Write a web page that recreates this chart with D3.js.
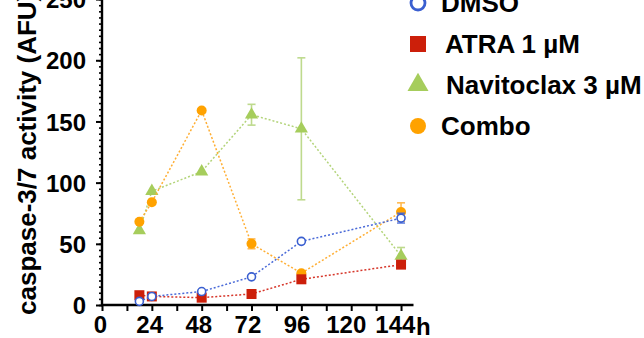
<!DOCTYPE html>
<html>
<head>
<meta charset="utf-8">
<script src="https://cdn.jsdelivr.net/npm/d3@7"></script>
<style>
  html, body { margin: 0; padding: 0; background: #fff; }
  svg { display: block; font-family: "Liberation Sans", Arial, sans-serif; font-weight: bold; }
</style>
</head>
<body>
<svg id="chart" width="644" height="338"></svg>
<script>
// Time points (hours)
const times = [18, 24, 48, 72, 96, 144];

// Caspase-3/7 activity per treatment (mean, error)
const dmso       = [3, 7, 11, 23, 52, 71];
const dmsoErr    = [0, 0, 0, 0, 0, 4];
const atra       = [8, 7, 6, 9, 21, 33];
const atraErr    = [0, 0, 0, 0, 0, 0];
const navitoclax = [61, 93, 109, 155.5, 144, 40];
const navitoErr  = [0, 0, 0, 8.5, 58, 7];
const combo      = [68, 84, 159, 50, 26, 76];
const comboErr   = [0, 0, 0, 4, 0, 7.5];

const seriesNames = ["DMSO", "ATRA 1 µM", "Navitoclax 3 µM", "Combo"];

const xTickLabels = [0, 24, 48, 72, 96, 120, 144];
const yTickLabels = [0, 50, 100, 150, 200, 250];

const series = [
  { name: seriesNames[0], values: dmso, err: dmsoErr, color: "#3a5fd0", line: "#4a6ad8", shape: "circleOpen" },
  { name: seriesNames[1], values: atra, err: atraErr, color: "#cc1f0a", line: "#d6362a", shape: "square" },
  { name: seriesNames[2], values: navitoclax, err: navitoErr, color: "#a6cd5c", line: "#b3d47a", shape: "triangle" },
  { name: seriesNames[3], values: combo, err: comboErr, color: "#ffa200", line: "#ffae33", shape: "circle" }
];

const svg = d3.select("#chart");

const x = d3.scaleLinear().domain([0, 150]).range([102, 413.5]);
const y = d3.scaleLinear().domain([0, 250]).range([305, -0.9]);

// Y axis: minor ticks every 5 units, labelled majors every 50
const yMinor = d3.axisLeft(y).tickValues(d3.range(0, 251, 5)).tickSize(3).tickFormat("");
svg.append("g").attr("transform", "translate(102,0)").call(yMinor)
  .call(g => g.select(".domain").remove())
  .call(g => g.selectAll("line").attr("stroke", "#000").attr("stroke-width", 1.6));

const yAxis = d3.axisLeft(y).tickValues(yTickLabels).tickSize(6).tickPadding(10);
svg.append("g").attr("transform", "translate(102,0)").call(yAxis)
  .call(g => g.select(".domain").attr("d", "M0,-5V306").attr("stroke", "#000").attr("stroke-width", 2.4))
  .call(g => g.selectAll("line").attr("stroke", "#000").attr("stroke-width", 2))
  .call(g => g.selectAll("text").attr("font-size", 24).attr("font-weight", "bold")
    .attr("font-family", "Liberation Sans, Arial, sans-serif").attr("fill", "#000").attr("dy", "0.36em"));

// X axis: ticks every 12 h, labels every 24 h
const xMinor = d3.axisBottom(x).tickValues(d3.range(0, 145, 12)).tickSize(6).tickFormat("");
svg.append("g").attr("transform", "translate(0,305)").call(xMinor)
  .call(g => g.select(".domain").attr("d", "M101,0H413.5").attr("stroke", "#000").attr("stroke-width", 2.4))
  .call(g => g.selectAll("line").attr("stroke", "#000").attr("stroke-width", 2));

const xAxis = d3.axisBottom(x).tickValues(xTickLabels).tickSize(0).tickPadding(11);
svg.append("g").attr("transform", "translate(0,305)").call(xAxis)
  .call(g => g.select(".domain").remove())
  .call(g => g.selectAll("text").attr("font-size", 24).attr("font-weight", "bold")
    .attr("font-family", "Liberation Sans, Arial, sans-serif").attr("fill", "#000")
    .attr("dx", (d, i) => -2 - i * 0.7));

// Time unit after the last tick label
svg.append("text")
  .attr("x", x(144) + 15).attr("y", 335)
  .attr("font-size", 24).attr("fill", "#000")
  .text("h");

// Y axis title
svg.append("text")
  .attr("transform", `translate(36,315) rotate(-90)`)
  .attr("text-anchor", "start")
  .attr("font-size", 26).attr("fill", "#000")
  .text("caspase-3/7 activity (AFU)");

function symbolPath(shape, size) {
  if (shape === "square") return d3.symbol(d3.symbolSquare, size * size)();
  if (shape === "triangle") return d3.symbol(d3.symbolTriangle, size * size * 0.75)();
  return d3.symbol(d3.symbolCircle, Math.PI * (size / 2) * (size / 2))();
}

function drawMarker(g, s, size, strokeW) {
  const p = g.append("path").attr("d", symbolPath(s.shape, size));
  if (s.shape === "circleOpen") {
    p.attr("fill", "#fff").attr("stroke", s.color).attr("stroke-width", strokeW);
  } else {
    p.attr("fill", s.color);
  }
  return p;
}

const line = d3.line().x(d => x(d.t)).y(d => y(d.v));

// Draw order: Navitoclax, Combo, ATRA, DMSO (DMSO on top)
const drawOrder = [2, 3, 1, 0];
drawOrder.forEach(i => {
  const s = series[i];
  const pts = times.map((t, k) => ({ t, v: s.values[k], e: s.err[k] }));
  const g = svg.append("g");
  g.append("path").datum(pts)
    .attr("d", line).attr("fill", "none")
    .attr("stroke", s.line).attr("stroke-width", 1.5)
    .attr("stroke-dasharray", "2,2");
  // error bars
  pts.filter(d => d.e > 0).forEach(d => {
    const eb = g.append("g").attr("stroke", s.line).attr("stroke-width", 1.6).attr("opacity", 0.85);
    eb.append("line").attr("x1", x(d.t)).attr("x2", x(d.t)).attr("y1", y(d.v - d.e)).attr("y2", y(d.v + d.e));
    [d.v - d.e, d.v + d.e].forEach(v => {
      eb.append("line").attr("x1", x(d.t) - 4).attr("x2", x(d.t) + 4).attr("y1", y(v)).attr("y2", y(v));
    });
  });
  pts.forEach(d => {
    const mg = g.append("g").attr("transform", `translate(${x(d.t)},${y(d.v)})`);
    drawMarker(mg, s, s.shape === "circleOpen" ? 8 : 10, 1.6);
  });
});

// Legend
const legendY = [3, 44, 85, 126];
const legendTextX = [23, 27, 28, 23];
series.forEach((s, i) => {
  const g = svg.append("g").attr("transform", `translate(418,${legendY[i]})`);
  drawMarker(g, s, s.shape === "circleOpen" ? 14 : 16, 2.8);
  g.append("text").attr("x", legendTextX[i]).attr("y", 9)
    .attr("font-size", 26).attr("fill", "#000").text(s.name);
});
</script>
</body>
</html>
